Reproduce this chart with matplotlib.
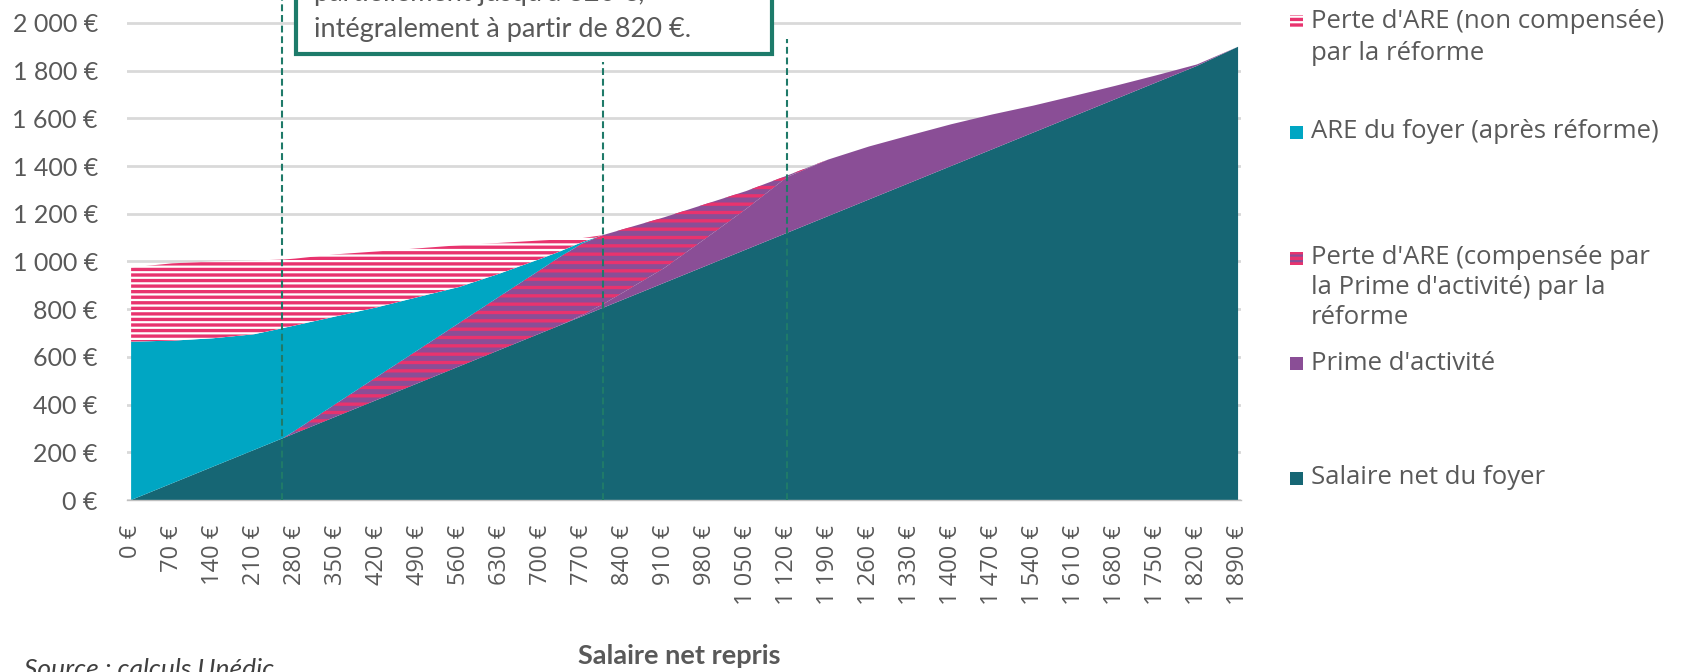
import matplotlib
matplotlib.use("Agg")
import matplotlib.pyplot as plt
from matplotlib.patches import Rectangle
import numpy as np

# ---------------- data ----------------
salaire_repris = [0, 70, 140, 210, 260, 280, 350, 420, 490, 560, 630, 700, 730, 770, 805,
                  840, 910, 980, 1050, 1120, 1190, 1260, 1330, 1400, 1470, 1540, 1610,
                  1680, 1750, 1820, 1890]
salaire_foyer = [0, 70, 140, 210, 260, 280, 350, 420, 490, 560, 630, 700, 730, 770, 805,
                 840, 910, 980, 1050, 1120, 1190, 1260, 1330, 1400, 1470, 1540, 1610,
                 1680, 1750, 1820, 1900]
prime_activite = [0, 0, 0, 0, 0, 0, 0, 0, 0, 0, 0, 0, 0, 5, 15,
                  30, 62, 115, 170, 234, 237, 222, 199, 175, 146, 113, 84,
                  56, 30, 6, 0]
perte_compensee = [0, 0, 0, 0, 0, 11, 54, 97, 139, 182, 225, 267, 286, 300, 290,
                   265, 213, 145, 75, 6, 0, 0, 0, 0, 0, 0, 0,
                   0, 0, 0, 0]
are_foyer = [664, 598, 538, 485, 461, 441, 366, 291, 222, 151, 95, 45, 24, 6, 0,
             0, 0, 0, 0, 0, 0, 0, 0, 0, 0, 0, 0,
             0, 0, 0, 0]
perte_non_compensee = [311, 324, 322, 309, 287, 280, 260, 234, 204, 175, 128, 76, 52, 17, 0,
                       0, 0, 0, 0, 0, 0, 0, 0, 0, 0, 0, 0,
                       0, 0, 0, 0]

tick_values = list(range(0, 1891, 70))
y_ticks = list(range(0, 2001, 200))
seuils = [258, 805, 1120]
seuils_top = [2100, 1836, 1933]

legend_labels = [
    ["Perte d'ARE (non compensée)", "par la réforme"],
    ["ARE du foyer (après réforme)"],
    ["Perte d'ARE (compensée par", "la Prime d'activité) par la", "réforme"],
    ["Prime d'activité"],
    ["Salaire net du foyer"],
]
box_lines = ["partiellement jusqu'à 820 €,", "intégralement à partir de 820 €."]

# ---------------- style ----------------
C_SAL = "#166674"
C_ARE = "#00A6C3"
C_PA = "#8A4E96"
C_PINK = "#E8336E"
C_DASH = "#1F7A69"
C_TXT = "#595959"
C_GRID = "#D9D9D9"

plt.rcParams["hatch.linewidth"] = 2.4

W, H = 1685, 672
fig = plt.figure(figsize=(W / 100, H / 100), dpi=100)

def fx(px):
    return px / W

def fy(py):
    return 1 - py / H

ax_left, ax_right, ax_top, ax_bottom = 127, 1241, 0, 500
ax = fig.add_axes([fx(ax_left), fy(ax_bottom), fx(ax_right - ax_left), (ax_bottom - ax_top) / H])

x = np.array(salaire_repris, dtype=float)
b1 = np.array(salaire_foyer, dtype=float)
b2 = b1 + np.array(prime_activite)
b3 = b2 + np.array(perte_compensee)
b4 = b3 + np.array(are_foyer)
b5 = b4 + np.array(perte_non_compensee)

ax.fill_between(x, 0, b1, facecolor=C_SAL, lw=0, zorder=2)
ax.fill_between(x, b1, b2, facecolor=C_PA, lw=0, zorder=2)
ax.fill_between(x, b2, b3, facecolor=C_PA, edgecolor=C_PINK, hatch="--", lw=0, zorder=2)
ax.fill_between(x, b3, b4, facecolor=C_ARE, lw=0, zorder=2)
ax.fill_between(x, b4, b5, facecolor="white", edgecolor=C_PINK, hatch="---", lw=0, zorder=2)

for s, t in zip(seuils, seuils_top):
    ax.plot([s, s], [0, t], color=C_DASH, lw=1.5, linestyle=(0, (3.3, 1.8)),
            zorder=4, clip_on=False)

ax.set_xlim(-7, 1895)
ax.set_ylim(0, 2096)
ax.set_yticks(y_ticks)
ax.set_yticklabels([f"{v:,}".replace(",", " ") + " €" for v in y_ticks],
                   fontfamily="Lato", fontsize=18, color=C_TXT)
ax.set_xticks(tick_values)
ax.set_xticklabels([f"{v:,}".replace(",", " ") + " €" for v in tick_values],
                   rotation=90, fontfamily="Open Sans", fontsize=17, color=C_TXT)
ax.tick_params(axis="y", length=0, pad=21)
ax.tick_params(axis="x", length=0, pad=18)
ax.yaxis.grid(True, color=C_GRID, lw=2)
ax.set_axisbelow(True)
for sp in ["top", "right", "left"]:
    ax.spines[sp].set_visible(False)
ax.spines["bottom"].set_color("#BFBFBF")
ax.spines["bottom"].set_linewidth(1)

# annotation box (cut at the top of the figure)
box = Rectangle((fx(296), fy(54)), fx(772 - 296), 80 / H, transform=fig.transFigure,
                facecolor="white", edgecolor="#1D7B6A", lw=3, zorder=5, clip_on=False)
fig.add_artist(box)
for line, ly in zip(box_lines, [-7, 29]):
    fig.text(fx(314), fy(ly), line, fontfamily="Lato", fontsize=19.5, color=C_TXT,
             ha="left", va="center", zorder=6)

# legend (manual)
legend_y = [[21, 53], [132], [258, 288, 318], [363], [478]]
kinds = ["nc", "are", "c", "pa", "sal"]
for lines, ys, kind in zip(legend_labels, legend_y, kinds):
    y0 = ys[0]
    if kind == "nc":
        r = Rectangle((fx(1290), fy(y0 + 7)), fx(13), 13 / H, transform=fig.transFigure,
                      facecolor="white", edgecolor=C_PINK, hatch="---", lw=0)
    elif kind == "c":
        r = Rectangle((fx(1290), fy(y0 + 7)), fx(13), 13 / H, transform=fig.transFigure,
                      facecolor=C_PA, edgecolor=C_PINK, hatch="---", lw=0)
    else:
        col = {"are": C_ARE, "pa": C_PA, "sal": C_SAL}[kind]
        r = Rectangle((fx(1290), fy(y0 + 7)), fx(13), 13 / H, transform=fig.transFigure,
                      facecolor=col, lw=0)
    fig.add_artist(r)
    for line, ly in zip(lines, ys):
        fig.text(fx(1311), fy(ly), line, fontfamily="Open Sans", fontsize=18.5,
                 color=C_TXT, ha="left", va="center")

fig.text(fx(679), fy(656), "Salaire net repris", fontfamily="Lato", fontweight="bold",
         fontsize=19.5, color=C_TXT, ha="center", va="center")
fig.text(fx(24), fy(658), "Source : calculs Unédic", fontfamily="Lato", fontstyle="italic",
         fontsize=19, color="#404040", ha="left", va="top")

fig.savefig("out.png", dpi=100)
